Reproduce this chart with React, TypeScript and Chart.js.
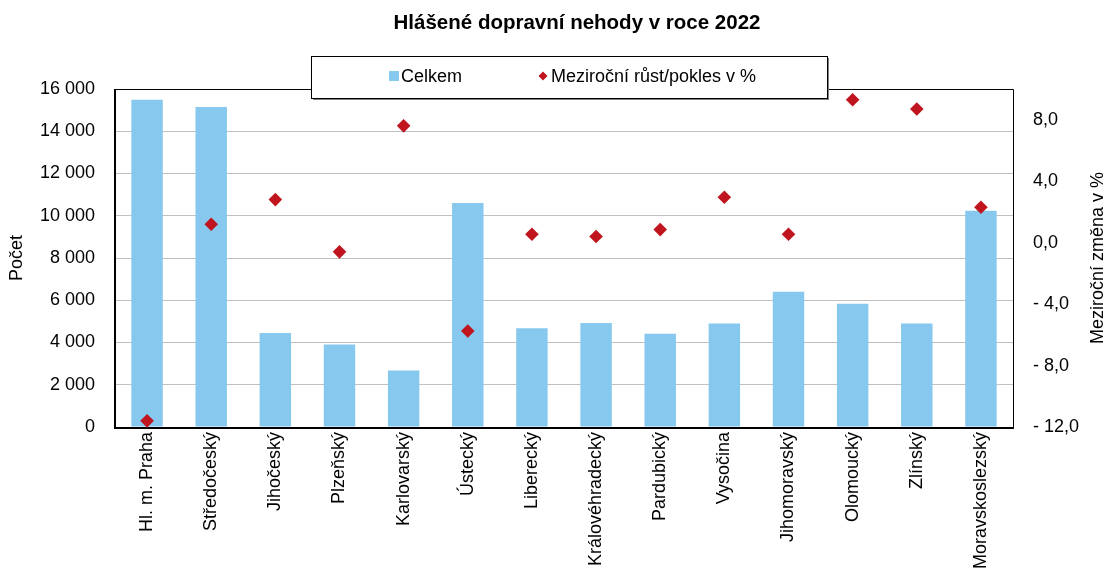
import React, { useEffect, useRef } from 'react';
import { Chart, registerables } from 'chart.js';

Chart.register(...registerables);

const FONT = '"Liberation Sans", Arial, Helvetica, sans-serif';

const chartTitle = 'Hlášené dopravní nehody v roce 2022';
const leftAxisTitle = 'Počet';
const rightAxisTitle = 'Meziroční změna v %';

const categories = [
  'Hl. m. Praha',
  'Středočeský',
  'Jihočeský',
  'Plzeňský',
  'Karlovarský',
  'Ústecký',
  'Liberecký',
  'Královéhradecký',
  'Pardubický',
  'Vysočina',
  'Jihomoravský',
  'Olomoucký',
  'Zlínský',
  'Moravskoslezský',
];

const celkemLabel = 'Celkem';
const celkem = [15490, 15150, 4450, 3900, 2670, 10600, 4670, 4920, 4420, 4900, 6400, 5840, 4900, 10240];

const zmenaLabel = 'Meziroční růst/pokles v %';
const zmena = [-11.6, 1.2, 2.8, -0.6, 7.6, -5.75, 0.55, 0.4, 0.85, 2.95, 0.55, 9.3, 8.7, 2.3];

const leftMin = 0;
const leftMax = 16000;
const leftStep = 2000;
const rightMin = -12;
const rightMax = 10;
const rightStep = 4;
const rightTickLimit = 8;

const BAR_COLOR = '#86C8EE';
const POINT_COLOR = '#C0141E';

const fmtThousands = (v: number) =>
  String(Math.round(v)).replace(/\B(?=(\d{3})+(?!\d))/g, ' ');
const fmtPct = (v: number) => {
  const s = Math.abs(v).toFixed(1).replace('.', ',');
  return v < 0 ? '- ' + s : s;
};

const decorPlugin = {
  id: 'decor',
  afterDatasetDraw(chart: any, args: any) {
    if (args.index !== 0) return;
    const { ctx, chartArea: a } = chart;
    const l = Math.round(a.left);
    const r = Math.round(a.right);
    const t = Math.round(a.top);
    const b = Math.round(a.bottom);
    ctx.save();
    ctx.strokeStyle = '#000';
    ctx.lineWidth = 1;
    ctx.beginPath();
    ctx.moveTo(l, t + 0.5);
    ctx.lineTo(r + 0.5, t + 0.5);
    ctx.lineTo(r + 0.5, b);
    ctx.stroke();
    ctx.lineWidth = 2;
    ctx.beginPath();
    ctx.moveTo(l, t);
    ctx.lineTo(l, b + 1);
    ctx.lineTo(r + 1, b + 1);
    ctx.stroke();
    ctx.restore();
  },
  afterDraw(chart: any) {
    const { ctx, chartArea: a } = chart;
    const ds = chart.data.datasets;
    ctx.save();
    // title
    ctx.fillStyle = '#000';
    ctx.font = `bold 20.5px ${FONT}`;
    ctx.textAlign = 'center';
    ctx.textBaseline = 'middle';
    ctx.fillText(chartTitle, 577, 23);

    // legend box
    const lx = 311, ly = 56, lw = 516, lh = 42;
    ctx.fillStyle = '#7f7f7f';
    ctx.fillRect(lx + 2, ly + 2, lw, lh);
    ctx.fillStyle = '#fff';
    ctx.fillRect(lx, ly, lw, lh);
    ctx.strokeStyle = '#000';
    ctx.lineWidth = 1;
    ctx.strokeRect(lx + 0.5, ly + 0.5, lw, lh);

    const cy = ly + lh / 2 - 1;
    ctx.font = `18px ${FONT}`;
    ctx.textAlign = 'left';
    ctx.textBaseline = 'middle';
    // bar item
    ctx.fillStyle = ds[0].backgroundColor;
    ctx.fillRect(389, cy - 5, 10, 10);
    ctx.fillStyle = '#000';
    ctx.fillText(ds[0].label, 401, cy + 1);
    // point item
    ctx.fillStyle = ds[1].backgroundColor;
    ctx.beginPath();
    ctx.moveTo(543 - 4.5, cy);
    ctx.lineTo(543, cy - 4.5);
    ctx.lineTo(543 + 4.5, cy);
    ctx.lineTo(543, cy + 4.5);
    ctx.closePath();
    ctx.fill();
    ctx.fillStyle = '#000';
    ctx.fillText(ds[1].label, 551, cy + 1);

    // axis titles
    const midY = (a.top + a.bottom) / 2;
    ctx.textAlign = 'center';
    ctx.font = `18px ${FONT}`;
    ctx.save();
    ctx.translate(17, midY);
    ctx.rotate(-Math.PI / 2);
    ctx.fillText(leftAxisTitle, 0, 0);
    ctx.restore();
    ctx.save();
    ctx.translate(1098, midY);
    ctx.rotate(-Math.PI / 2);
    ctx.fillText(rightAxisTitle, 0, 0);
    ctx.restore();
    ctx.restore();
  },
};

export default function App() {
  const ref = useRef<HTMLCanvasElement | null>(null);
  useEffect(() => {
    if (!ref.current) return;
    const chart = new Chart(ref.current, {
      type: 'bar',
      data: {
        labels: categories,
        datasets: [
          {
            type: 'bar',
            label: celkemLabel,
            data: celkem,
            backgroundColor: BAR_COLOR,
            borderWidth: 0,
            yAxisID: 'y',
            categoryPercentage: 1,
            barPercentage: 0.49,
            order: 1,
          } as any,
          {
            type: 'line',
            label: zmenaLabel,
            data: zmena,
            showLine: false,
            pointStyle: 'rectRot',
            pointRadius: 6.8,
            pointBorderWidth: 0,
            backgroundColor: POINT_COLOR,
            borderColor: POINT_COLOR,
            yAxisID: 'y1',
            clip: false,
            order: 0,
          } as any,
        ],
      },
      options: {
        animation: false,
        responsive: false,
        maintainAspectRatio: false,
        layout: { padding: { top: 89, left: 0, right: 0, bottom: 0 } },
        plugins: {
          legend: { display: false },
          title: { display: false },
          tooltip: { enabled: false },
        },
        scales: {
          x: {
            type: 'category',
            grid: { display: false, drawTicks: false },
            border: { display: false },
            ticks: {
              autoSkip: false,
              maxRotation: 90,
              minRotation: 90,
              padding: 5,
              color: '#000',
              font: { family: FONT, size: 18 },
            },
            afterFit(scale: any) {
              scale.height = 149;
            },
          },
          y: {
            type: 'linear',
            position: 'left',
            min: leftMin,
            max: leftMax,
            grid: { color: '#C0C0C0', lineWidth: 1, drawTicks: false },
            border: { display: false },
            ticks: {
              stepSize: leftStep,
              padding: 20,
              color: '#000',
              font: { family: FONT, size: 18 },
              callback: (v: any) => fmtThousands(Number(v)),
            },
            afterFit(scale: any) {
              scale.width = 115;
            },
          },
          y1: {
            type: 'linear',
            position: 'right',
            min: rightMin,
            max: rightMax,
            grid: { display: false, drawTicks: false },
            border: { display: false },
            ticks: {
              stepSize: rightStep,
              padding: 20,
              color: '#000',
              font: { family: FONT, size: 18 },
              callback: (v: any) => fmtPct(Number(v)),
            },
            afterBuildTicks(scale: any) {
              scale.ticks = scale.ticks.filter((t: any) => t.value <= rightTickLimit);
            },
            afterFit(scale: any) {
              scale.width = 92;
            },
          },
        },
      } as any,
      plugins: [decorPlugin],
    });
    return () => chart.destroy();
  }, []);

  return (
    <div style={{ position: 'fixed', left: 0, top: 0, width: 1105, height: 576, background: '#fff' }}>
      <canvas ref={ref} width={1105} height={576} style={{ width: 1105, height: 576, display: 'block' }} />
    </div>
  );
}
